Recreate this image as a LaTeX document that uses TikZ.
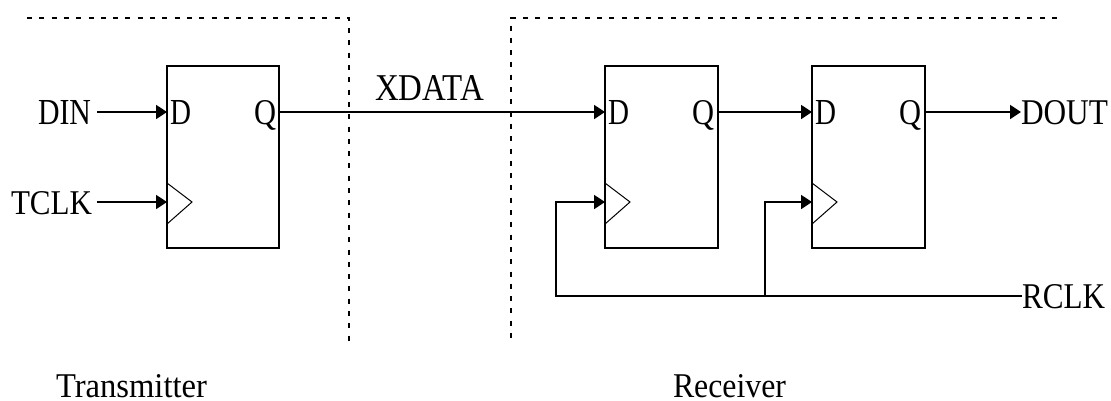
\documentclass[tikz,border=0pt]{standalone}
\usepackage{graphicx}
\usepackage{fontspec}
\setmainfont{Liberation Serif}
\usetikzlibrary{arrows.meta}
\newcommand{\fitlabel}[3]{\resizebox{#1pt}{#2pt}{#3}}
\tikzset{
  wire/.style={line width=1.8pt,line cap=butt},
  sig/.style={wire,-{Triangle[length=11pt,width=14pt]}},
  ffbox/.style={draw,line width=1.8pt,minimum width=112pt,minimum height=182pt,inner sep=0,outer sep=0,anchor=north west},
  tag/.style={inner sep=0,outer sep=0,anchor=base west},
  clk/.style={line width=1pt},
  bound/.style={line width=2.4pt,dash pattern=on 5pt off 7.3pt}
}
\begin{document}
\begin{tikzpicture}[x=1pt,y=-1pt]
\useasboundingbox (0,0) rectangle (1111,400);
% boundaries
\coordinate (t0) at (27,18); \coordinate (t1) at (349,18); \coordinate (t2) at (349,342);
\coordinate (r0) at (1057,18); \coordinate (r1) at (511,18); \coordinate (r2) at (511,342);
\draw[bound] (t0) -- (t1) -- (t2);
\draw[bound] (r0) -- (r1) -- (r2);
% flip-flops
\node[ffbox] (ffa) at (167,66) {};
\node[ffbox,minimum width=113pt] (ffb) at (605,66) {};
\node[ffbox,minimum width=113pt] (ffc) at (812,66) {};
% clock triangles
\foreach \b/\x in {a/167,b/605,c/812}{
  \coordinate (d\b) at (\x,112);
  \coordinate (c\b) at (\x,202);
  \draw[clk] (\x,183) -- (\x+25,202) -- (\x,224);
}
\coordinate (qa) at (279,112);
\coordinate (qb) at (718,112);
\coordinate (qc) at (925,112);
% labels
\node[tag] (din) at (38,124) {\fitlabel{53}{24}{DIN}};
\node[tag] (tclk) at (11,214) {\fitlabel{81}{23}{TCLK}};
\node[tag] (xdata) at (375,100) {\fitlabel{109}{25}{XDATA}};
\node[tag] (dout) at (1021,124) {\fitlabel{87}{24}{DOUT}};
\node[tag] (rclk) at (1022,308) {\fitlabel{83}{24}{RCLK}};
\node[tag] (ltx) at (56,397) {\fitlabel{151}{23}{Transmitter}};
\node[tag] (lrx) at (673,397) {\fitlabel{113}{23}{Receiver}};
\foreach \b/\x/\q in {a/170/254,b/608/692,c/815/899}{
  \node[tag] (dl\b) at (\x,124) {\fitlabel{21}{24}{D}};
  \node[tag] (ql\b) at (\q,124) {\fitlabel{22}{24}{Q}};
}
% connectors
\coordinate (dinout) at (97,112);
\coordinate (tclkout) at (97,202);
\coordinate (doutin) at (1021,112);
\coordinate (rclkin) at (1022,296);
\coordinate (rb) at (556,296);
\coordinate (rc) at (765,296);
\draw[sig] (dinout) -- (da);
\draw[sig] (tclkout) -- (ca);
\draw[sig] (qa) -- (db);
\draw[sig] (qb) -- (dc);
\draw[sig] (qc) -- (doutin);
\draw[sig] (rclkin) -- (rb) |- (cb);
\draw[sig] (rc) |- (cc);
\end{tikzpicture}
\end{document}
